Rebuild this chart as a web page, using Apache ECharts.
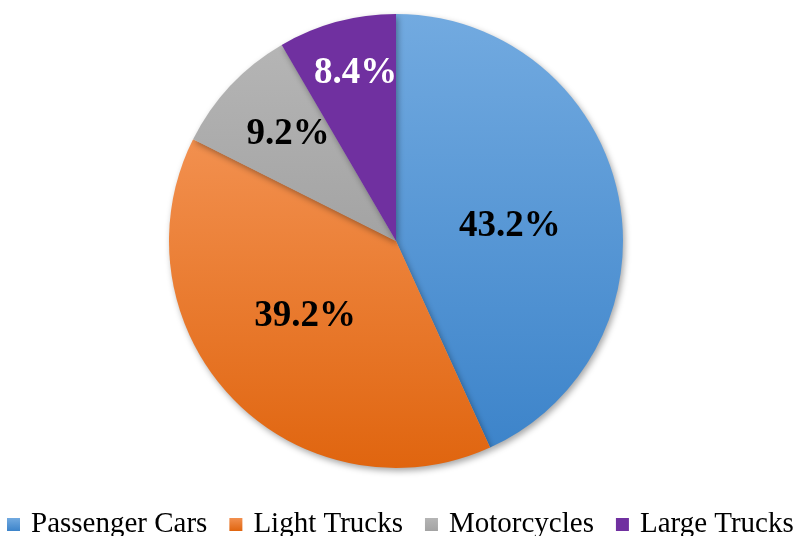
<!DOCTYPE html>
<html>
<head>
<meta charset="utf-8">
<script src="https://cdn.jsdelivr.net/npm/echarts@6/dist/echarts.min.js"></script>
<style>
  html, body { margin: 0; padding: 0; background: #fff; }
  #chart { width: 796px; height: 536px; }
</style>
</head>
<body>
<div id="chart"></div>
<script>
(function () {
var myChart = echarts.init(document.getElementById("chart"));

var categories = ["Passenger Cars", "Light Trucks", "Motorcycles", "Large Trucks"];
var shares = [43.2, 39.2, 9.2, 8.4];

var topColors = ["#72aae0", "#f2904f", "#b5b5b5", "#7030a0"];
var bottomColors = ["#3d84ca", "#e0650f", "#a3a3a3", "#7030a0"];
var labelColors = ["#000", "#000", "#000", "#fff"];
// small nudges so labels sit where the original puts them
var labelShift = [[0, 10], [-7, -5], [-23, -27], [-10, -55]];

var pieData = [];
for (var i = 0; i < categories.length; i++) {
    pieData.push({
        name: categories[i],
        value: shares[i],
        itemStyle: {
            color: new echarts.graphic.LinearGradient(0, 0, 0, 1, [
                { offset: 0, color: topColors[i] },
                { offset: 1, color: bottomColors[i] }
            ])
        },
        label: { color: labelColors[i] }
    });
}

var option = {
    backgroundColor: "#fff",
    animation: false,
    legend: {
        data: categories,
        top: 510,
        left: 7,
        padding: 0,
        icon: "rect",
        itemWidth: 13,
        itemHeight: 13,
        itemGap: 22,
        textStyle: {
            fontFamily: "Liberation Serif",
            fontSize: 29,
            color: "#000",
            padding: [0, 0, 0, 6]
        }
    },
    series: [{
        type: "pie",
        center: [396, 241],
        radius: 227,
        startAngle: 90,
        clockwise: true,
        data: pieData,
        itemStyle: {
            shadowBlur: 6,
            shadowOffsetX: 2,
            shadowOffsetY: 3,
            shadowColor: "rgba(0,0,0,0.35)"
        },
        label: {
            show: true,
            position: "inside",
            formatter: function (p) { return p.value.toFixed(1) + "%"; },
            fontFamily: "Liberation Serif",
            fontWeight: "bold",
            fontSize: 37
        },
        labelLayout: function (p) {
            return {
                dx: labelShift[p.dataIndex][0],
                dy: labelShift[p.dataIndex][1],
                hideOverlap: false
            };
        },
        labelLine: { show: false },
        emphasis: { disabled: true }
    }]
};

myChart.setOption(option);
window.addEventListener("resize", function () {
    myChart.resize();
});
})();
</script>
</body>
</html>
